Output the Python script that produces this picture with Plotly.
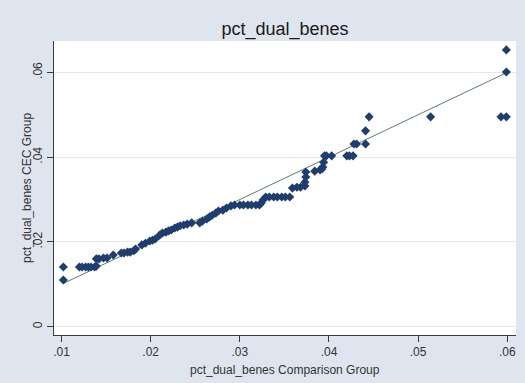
import plotly.graph_objects as go

# Quantiles of pct_dual_benes: comparison group (x) vs CEC group (y)
comparison_q = [
    0.0102, 0.0102, 0.0120, 0.0123, 0.0127, 0.0130, 0.0133, 0.0137, 0.0139,
    0.0139, 0.0142, 0.0147, 0.0151, 0.0158, 0.0167, 0.0170, 0.0174, 0.0177,
    0.0181, 0.0183, 0.0190, 0.0194, 0.0199, 0.0202, 0.0205, 0.0210, 0.0213,
    0.0217, 0.0220, 0.0223, 0.0227, 0.0230, 0.0233, 0.0237, 0.0241, 0.0246,
    0.0255, 0.0258, 0.0263, 0.0266, 0.0269, 0.0273, 0.0276, 0.0281, 0.0285,
    0.0290, 0.0294, 0.0300, 0.0304, 0.0309, 0.0313, 0.0318, 0.0322, 0.0324,
    0.0326, 0.0329, 0.0333, 0.0338, 0.0342, 0.0347, 0.0351, 0.0356, 0.0359,
    0.0364, 0.0368, 0.0373, 0.0373, 0.0374, 0.0374, 0.0384, 0.0390, 0.0392,
    0.0393, 0.0394, 0.0395, 0.0397, 0.0403, 0.0420, 0.0423, 0.0427, 0.0428,
    0.0431, 0.0441, 0.0441, 0.0445, 0.0514, 0.0593, 0.0599, 0.0599, 0.0599,
]
cec_q = [
    0.0110, 0.0141, 0.0141, 0.0141, 0.0141, 0.0141, 0.0141, 0.0141, 0.0143,
    0.0160, 0.0160, 0.0162, 0.0162, 0.0169, 0.0174, 0.0174, 0.0176, 0.0176,
    0.0179, 0.0183, 0.0193, 0.0197, 0.0202, 0.0204, 0.0207, 0.0216, 0.0221,
    0.0223, 0.0226, 0.0228, 0.0233, 0.0235, 0.0238, 0.0240, 0.0242, 0.0245,
    0.0245, 0.0249, 0.0254, 0.0259, 0.0263, 0.0268, 0.0273, 0.0275, 0.0280,
    0.0285, 0.0287, 0.0287, 0.0287, 0.0287, 0.0287, 0.0287, 0.0287, 0.0292,
    0.0299, 0.0306, 0.0306, 0.0306, 0.0306, 0.0306, 0.0306, 0.0306, 0.0327,
    0.0329, 0.0329, 0.0332, 0.0341, 0.0353, 0.0365, 0.0367, 0.0370, 0.0372,
    0.0377, 0.0388, 0.0403, 0.0403, 0.0403, 0.0403, 0.0403, 0.0403, 0.0431,
    0.0431, 0.0431, 0.0462, 0.0495, 0.0495, 0.0495, 0.0495, 0.0601, 0.0653,
]

x_ticks = [0.01, 0.02, 0.03, 0.04, 0.05, 0.06]
x_tick_text = [".01", ".02", ".03", ".04", ".05", ".06"]
y_ticks = [0, 0.02, 0.04, 0.06]
y_tick_text = ["0", ".02", ".04", ".06"]

FONT = "Liberation Sans, Arial, sans-serif"
BG = "#dfe5ef"
NAVY = "#1f3d6e"

# 45-degree reference line across the range of the comparison quantiles
lo, hi = min(comparison_q), max(comparison_q)

fig = go.Figure()
fig.add_trace(go.Scatter(
    x=[lo, hi], y=[lo, hi], mode="lines",
    line=dict(color="#5a8068", width=1),
    hoverinfo="skip", showlegend=False,
))
fig.add_trace(go.Scatter(
    x=comparison_q, y=cec_q, mode="markers",
    marker=dict(symbol="diamond", size=7, color=NAVY, line=dict(width=0)),
    showlegend=False,
))

fig.update_layout(
    width=525, height=383,
    margin=dict(l=54, r=9, t=41, b=48),
    paper_bgcolor=BG, plot_bgcolor="white",
    font=dict(family=FONT, size=12, color="#333333"),
    title=dict(text="pct_dual_benes", x=0.5, xref="paper",
               y=1 - 29 / 383, yref="container", yanchor="middle",
               font=dict(family=FONT, size=18, color="#1a1a1a")),
    xaxis=dict(
        range=[0.00915, 0.06098], tickvals=x_ticks, ticktext=x_tick_text,
        showgrid=False, zeroline=False, showline=True, linecolor="#3a3a3a",
        linewidth=1, ticks="outside", ticklen=6, tickcolor="#3a3a3a",
        tickfont=dict(size=12, color="#333333"),
    ),
    yaxis=dict(
        range=[-0.00196, 0.0674], tickvals=y_ticks, ticktext=y_tick_text,
        tickangle=-90, showgrid=True, gridcolor="#e6e8ea", gridwidth=1,
        zeroline=False, showline=True, linecolor="#3a3a3a", linewidth=1,
        ticks="outside", ticklen=6, tickcolor="#3a3a3a",
        tickfont=dict(size=12, color="#333333"),
    ),
    annotations=[
        dict(text="pct_dual_benes Comparison Group", xref="paper", yref="paper",
             x=0.5, y=-(370 - 335) / 294, xanchor="center", yanchor="middle",
             showarrow=False, font=dict(size=12, color="#333333")),
        dict(text="pct_dual_benes CEC Group", xref="paper", yref="paper",
             x=-(54 - 27) / 462, y=0.5, textangle=-90, xanchor="center",
             yanchor="middle", showarrow=False,
             font=dict(size=12, color="#333333")),
    ],
)

fig.write_html("out.html")
